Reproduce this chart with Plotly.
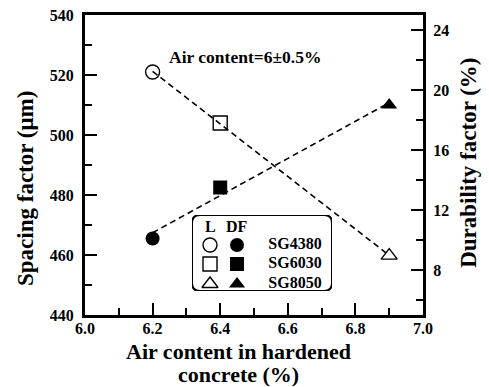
import numpy as np
import plotly.graph_objects as go

# Air content in hardened concrete (%)
air_content = [6.2, 6.4, 6.9]
# Spacing factor L (um), left axis
spacing_factor = [521.0, 504.0, 459.8]
# Durability factor DF (%), right axis
durability_factor = [10.1, 13.5, 19.0]
mixes = ["SG4380", "SG6030", "SG8050"]
open_symbols = ["circle-open", "square-open", "triangle-up-open"]
filled_symbols = ["circle", "square", "triangle-up"]

x_ticks = [6.0, 6.2, 6.4, 6.6, 6.8, 7.0]
x_minor = [6.1, 6.3, 6.5, 6.7, 6.9]
l_ticks = [440, 460, 480, 500, 520, 540]
l_minor = [450, 470, 490, 510, 530]
df_ticks = [8, 12, 16, 20, 24]
df_minor = [6, 10, 14, 18, 22]

FONT = "Liberation Serif, Times New Roman, serif"


def bold(s):
    return "<b>" + s + "</b>"


# Linear trend lines through each series
x_fit = np.array([min(air_content), max(air_content)])
l_coef = np.polyfit(air_content, spacing_factor, 1)
df_coef = np.polyfit(air_content, durability_factor, 1)

fig = go.Figure()

fig.add_trace(go.Scatter(
    x=x_fit, y=np.polyval(l_coef, x_fit), mode="lines",
    line=dict(color="black", width=1.6, dash="6px,4px"), showlegend=False,
    hoverinfo="skip"))
fig.add_trace(go.Scatter(
    x=x_fit, y=np.polyval(df_coef, x_fit), mode="lines", yaxis="y2",
    line=dict(color="black", width=1.6, dash="6px,4px"), showlegend=False,
    hoverinfo="skip"))

fig.add_trace(go.Scatter(
    x=air_content, y=spacing_factor, mode="markers", name="L",
    marker=dict(symbol=open_symbols, size=14, color="black",
                line=dict(width=1.4, color="black")),
    showlegend=False))
fig.add_trace(go.Scatter(
    x=air_content, y=durability_factor, mode="markers", name="DF", yaxis="y2",
    marker=dict(symbol=filled_symbols, size=14, color="black"),
    showlegend=False))

# Key drawn on its own small axes: open = L, filled = DF
key_rows = [46, 27, 7]
fig.add_trace(go.Scatter(
    x=[18] * 3, y=key_rows, xaxis="x3", yaxis="y3", mode="markers",
    marker=dict(symbol=open_symbols, size=14, color="black",
                line=dict(width=1.4, color="black")),
    showlegend=False, hoverinfo="skip"))
fig.add_trace(go.Scatter(
    x=[45] * 3, y=key_rows, xaxis="x3", yaxis="y3", mode="markers",
    marker=dict(symbol=filled_symbols, size=14, color="black"),
    showlegend=False, hoverinfo="skip"))
fig.add_trace(go.Scatter(
    x=[103] * 3, y=key_rows, xaxis="x3", yaxis="y3", mode="text",
    text=[bold(m) for m in mixes],
    textfont=dict(family=FONT, size=16, color="black"),
    showlegend=False, hoverinfo="skip"))

tick_font = dict(family=FONT, size=16, color="black")
title_font = dict(family=FONT, size=22, color="black")
tick_style = dict(ticks="inside", ticklen=12, tickwidth=2, tickcolor="black",
                  showline=True, linewidth=3, linecolor="black",
                  showgrid=False, zeroline=False, tickfont=tick_font, automargin=False)
minor_style = dict(ticks="inside", ticklen=7, tickwidth=2, tickcolor="black")

fig.update_layout(
    width=489, height=387,
    margin=dict(l=85, r=66, t=15, b=72),
    paper_bgcolor="white", plot_bgcolor="white",
    font=dict(family=FONT, color="black"),
    xaxis=dict(
        range=[6.0, 7.0], tickvals=x_ticks,
        ticktext=[bold(f"{v:.1f}") for v in x_ticks],
        minor=dict(tickvals=x_minor, **minor_style),
        mirror=True, ticklabelstandoff=-3, **tick_style,
    ),
    yaxis=dict(
        range=[440, 540], tickvals=l_ticks, ticktext=[bold(str(v)) for v in l_ticks],
        minor=dict(tickvals=l_minor, **minor_style),
        ticklabelstandoff=5, **tick_style,
    ),
    yaxis2=dict(
        range=[5, 25], overlaying="y", side="right",
        tickvals=df_ticks, ticktext=[bold(str(v)) for v in df_ticks],
        minor=dict(tickvals=df_minor, **minor_style),
        ticklabelstandoff=4, **tick_style,
    ),
    xaxis3=dict(domain=[0.3166, 0.7308], range=[0, 140], visible=False, fixedrange=True,
                anchor="y3"),
    yaxis3=dict(domain=[0.08, 0.3333], range=[0, 76], visible=False, fixedrange=True,
                anchor="x3"),
    annotations=[
        # axis titles (x title set as two lines)
        dict(text=bold("Air content in hardened"), x=0.453, y=-0.123,
             xref="paper", yref="paper", xanchor="center", yanchor="middle",
             showarrow=False, font=title_font, borderpad=0),
        dict(text=bold("concrete (%)"), x=0.453, y=-0.197,
             xref="paper", yref="paper", xanchor="center", yanchor="middle",
             showarrow=False, font=title_font, borderpad=0),
        dict(text=bold("Spacing factor (μm)"), x=-0.1775, y=0.42, textangle=-90,
             xref="paper", yref="paper", xanchor="center", yanchor="middle",
             showarrow=False, font=dict(family=FONT, size=23, color="black")),
        dict(text=bold("Durability factor (%)"), x=1.136, y=0.507, textangle=-90,
             xref="paper", yref="paper", xanchor="center", yanchor="middle",
             showarrow=False, font=dict(family=FONT, size=23, color="black")),
        dict(text=bold("Air content=6±0.5%"), x=0.473, y=0.9, xref="paper", yref="paper",
             showarrow=False, font=dict(family=FONT, size=17.5, color="black")),
        dict(text=bold("L"), x=18, y=65, xref="x3", yref="y3", showarrow=False,
             font=dict(family=FONT, size=16, color="black")),
        dict(text=bold("DF"), x=45, y=65, xref="x3", yref="y3", showarrow=False,
             font=dict(family=FONT, size=16, color="black")),
    ],
    shapes=[
        dict(type="path", xref="x3", yref="y3",
             path="M 8,0 L 132,0 Q 140,0 140,8 L 140,68 Q 140,76 132,76 "
                  "L 8,76 Q 0,76 0,68 L 0,8 Q 0,0 8,0 Z",
             line=dict(color="black", width=2), fillcolor="rgba(0,0,0,0)"),
    ],
)

fig.write_html("out.html")
